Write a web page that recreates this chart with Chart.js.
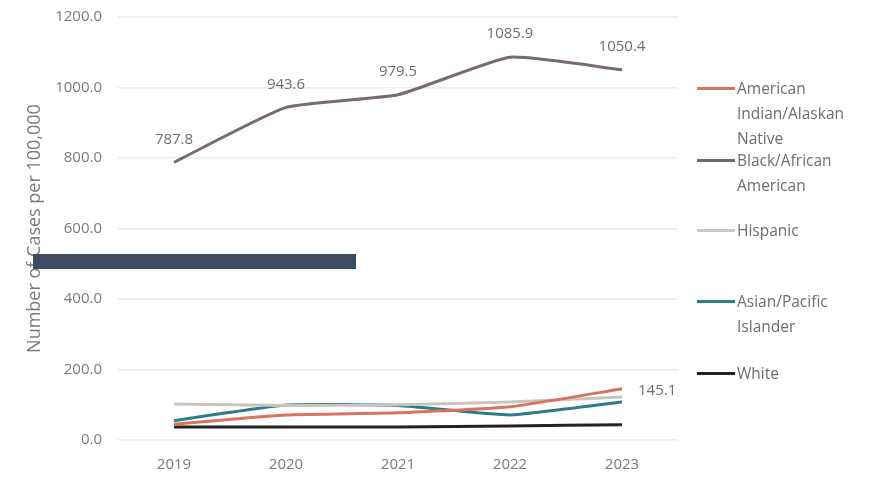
<!DOCTYPE html>
<html>
<head>
<meta charset="utf-8">
<script src="https://cdn.jsdelivr.net/npm/chart.js@4.4.1/dist/chart.umd.min.js"></script>
<style>
  html, body { margin: 0; padding: 0; background: #fff; }
  #wrap { position: relative; width: 871px; height: 483px; font-family: "Open Sans", sans-serif; }
  #chart { position: absolute; left: 0; top: 0; }
  .leg { position: absolute; left: 697px; color: #6e6e6e; font-size: 15.5px; line-height: 25px; }
  .leg i { position: absolute; left: 0; top: 11px; width: 38px; height: 3px; }
  .leg span { display: block; margin-left: 40px; white-space: nowrap; }
  #redact { position: absolute; left: 33px; top: 254px; width: 323px; height: 15px; background: #3d4c63; }
</style>
</head>
<body>
<div id="wrap">
  <canvas id="chart" width="871" height="483"></canvas>
  <div id="legend"></div>
  <div id="redact"></div>
</div>
<script>
// データ
const years = ['2019', '2020', '2021', '2022', '2023'];
const seriesNames = ['American Indian/Alaskan Native', 'Black/African American', 'Hispanic', 'Asian/Pacific Islander', 'White'];
const aianValues = [45, 71, 77, 94, 145.1];
const blackValues = [787.8, 943.6, 979.5, 1085.9, 1050.4];
const hispanicValues = [102, 98, 100, 108, 122];
const asianValues = [55, 99, 98, 71, 108];
const whiteValues = [37, 37, 37, 40, 43];
const seriesColors = ['#d8745e', '#776b6b', '#c9c5bd', '#2b7d88', '#222222'];
const legendLines = [['American', 'Indian/Alaskan', 'Native'], ['Black/African', 'American'], ['Hispanic'], ['Asian/Pacific', 'Islander'], ['White']];
const legendTops = [76, 148, 218, 289, 361];

const allValues = [aianValues, blackValues, hispanicValues, asianValues, whiteValues];
const FONT = '"Open Sans", sans-serif';

// 凡例 (HTML)
const legendEl = document.getElementById('legend');
legendLines.forEach((lines, i) => {
    const item = document.createElement('div');
    item.className = 'leg';
    item.style.top = legendTops[i] + 'px';
    const swatch = document.createElement('i');
    swatch.style.background = seriesColors[i];
    item.appendChild(swatch);
    lines.forEach(t => {
        const s = document.createElement('span');
        s.textContent = t;
        item.appendChild(s);
    });
    legendEl.appendChild(item);
});

// データラベル
const valueLabels = {
    id: 'valueLabels',
    afterDatasetsDraw(chart) {
        const ctx = chart.ctx;
        ctx.save();
        ctx.font = '15px ' + FONT;
        ctx.fillStyle = '#6e6e6e';
        ctx.textBaseline = 'middle';
        // Black/African American: 各点の上
        ctx.textAlign = 'center';
        chart.getDatasetMeta(1).data.forEach((pt, i) => {
            ctx.fillText(blackValues[i].toFixed(1), pt.x, pt.y - 23);
        });
        // AIAN: 最後の点の右
        const aianMeta = chart.getDatasetMeta(0).data;
        const last = aianMeta[aianMeta.length - 1];
        ctx.textAlign = 'left';
        ctx.fillText(aianValues[aianValues.length - 1].toFixed(1), last.x + 16, last.y + 2);
        ctx.restore();
    }
};

new Chart(document.getElementById('chart'), {
    type: 'line',
    data: {
        labels: years,
        datasets: seriesNames.map((name, i) => ({
            label: name,
            data: allValues[i],
            borderColor: seriesColors[i],
            backgroundColor: seriesColors[i],
            borderWidth: 3,
            pointRadius: 0,
            tension: 0.15,
            order: i === 4 ? 5 : i
        }))
    },
    options: {
        responsive: false,
        animation: false,
        layout: { padding: { top: 17, right: 193, left: 0, bottom: 0 } },
        plugins: { legend: { display: false }, tooltip: { enabled: false } },
        scales: {
            x: {
                offset: true,
                grid: { display: false, drawTicks: false },
                border: { display: false },
                ticks: { color: '#7a7a7a', font: { family: FONT, size: 15 }, padding: 16 },
                afterFit(scale) { scale.height = 43; }
            },
            y: {
                min: 0,
                max: 1200,
                grid: { color: '#ececec', lineWidth: 1.5, drawTicks: false },
                border: { display: false },
                ticks: {
                    stepSize: 200,
                    color: '#7a7a7a',
                    padding: 16,
                    font: { family: FONT, size: 15 },
                    callback: v => v.toFixed(1)
                },
                title: {
                    display: true,
                    text: 'Number of Cases per 100,000',
                    color: '#7a7a7a',
                    font: { family: FONT, size: 18 },
                    padding: { top: 24, bottom: 0 }
                },
                afterFit(scale) {
                    scale.width = 118;
                    scale.paddingTop = 0;
                    scale.paddingBottom = 0;
                }
            }
        }
    },
    plugins: [valueLabels]
});
</script>
</body>
</html>
